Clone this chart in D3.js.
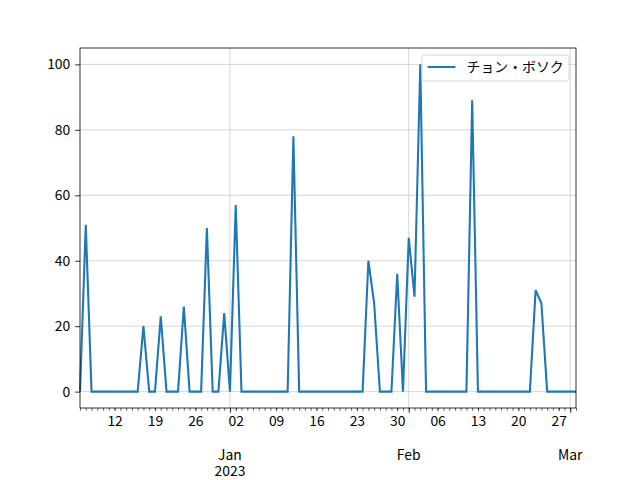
<!DOCTYPE html>
<html>
<head>
<meta charset="utf-8">
<script src="https://cdn.jsdelivr.net/npm/d3@7"></script>
<style>
  html, body { margin: 0; padding: 0; background: #fff; }
  svg { display: block; }
  text { font-family: "Noto Sans CJK JP", "DejaVu Sans", sans-serif; }
</style>
</head>
<body>
<svg id="chart" width="640" height="480"></svg>
<script>
// ---- data ----
const startDate = "2022-12-06";
const endDate = "2023-03-02";
const seriesName = "チョン・ボソク";
const values = [
  0, 51, 0, 0, 0, 0, 0, 0, 0, 0,      // Dec 6 - Dec 15
  0, 20, 0, 0, 23, 0, 0, 0, 26, 0,    // Dec 16 - Dec 25
  0, 0, 50, 0, 0, 24, 0, 57, 0, 0,    // Dec 26 - Jan 4
  0, 0, 0, 0, 0, 0, 0, 78, 0, 0,      // Jan 5 - Jan 14
  0, 0, 0, 0, 0, 0, 0, 0, 0, 0,       // Jan 15 - Jan 24
  40, 27, 0, 0, 0, 36, 0, 47, 29, 100,// Jan 25 - Feb 3
  0, 0, 0, 0, 0, 0, 0, 0, 89, 0,      // Feb 4 - Feb 13
  0, 0, 0, 0, 0, 0, 0, 0, 0, 31,      // Feb 14 - Feb 23
  27, 0, 0, 0, 0, 0, 0                // Feb 24 - Mar 2
];
const yTicks = [0, 20, 40, 60, 80, 100];
const dayLabelDates = ["2022-12-12","2022-12-19","2022-12-26","2023-01-02","2023-01-09","2023-01-16",
                       "2023-01-23","2023-01-30","2023-02-06","2023-02-13","2023-02-20","2023-02-27"];
const monthTickDates = ["2023-01-01","2023-02-01","2023-03-01"];
const monthLabels = ["Jan", "Feb", "Mar"];
const yearLabels = ["2023", "", ""];

// ---- layout ----
const parse = d3.utcParse("%Y-%m-%d");
const margin = {left: 80, right: 64, top: 48, bottom: 72};
const W = 640, H = 480;
const iw = W - margin.left - margin.right;
const ih = H - margin.top - margin.bottom;

const t0 = parse(startDate), t1 = parse(endDate);
const dates = d3.utcDay.range(t0, d3.utcDay.offset(t1, 1));
const data = dates.map((d, i) => ({date: d, value: values[i]}));

const x = d3.scaleUtc().domain([t0, t1]).range([0, iw]);
const y = d3.scaleLinear().domain([-5, 105]).range([ih, 0]);

const svg = d3.select("#chart");
const g = svg.append("g").attr("transform", `translate(${margin.left},${margin.top})`);

const fs = 13.9;
const gridColor = "#cbcbcb";

// grid
g.append("g").selectAll("line.hg").data(yTicks).join("line")
  .attr("x1", 0).attr("x2", iw)
  .attr("y1", d => y(d)).attr("y2", d => y(d))
  .attr("stroke", gridColor).attr("stroke-width", 0.8);
g.append("g").selectAll("line.vg").data(monthTickDates.map(parse)).join("line")
  .attr("x1", d => x(d)).attr("x2", d => x(d))
  .attr("y1", 0).attr("y2", ih)
  .attr("stroke", gridColor).attr("stroke-width", 0.8);

// line
const line = d3.line().x(d => x(d.date)).y(d => y(d.value));
g.append("path").datum(data)
  .attr("fill", "none").attr("stroke", "#1f77b4")
  .attr("stroke-width", 2.08).attr("stroke-linejoin", "miter").attr("stroke-linecap", "butt")
  .attr("d", line);

// y axis
const yAxis = d3.axisLeft(y).tickValues(yTicks).tickSize(4.86).tickPadding(4.86);
const ya = g.append("g").call(yAxis);
ya.select(".domain").remove();
ya.selectAll("line").attr("stroke", "#000").attr("stroke-width", 0.8);
ya.selectAll("text").attr("font-size", fs).attr("fill", "#000")
  .attr("font-family", '"Noto Sans CJK JP", "DejaVu Sans", sans-serif');

// x axis minor daily ticks
const xMinor = d3.axisBottom(x).tickValues(dates).tickSize(2.78).tickFormat("");
const xm = g.append("g").attr("transform", `translate(0,${ih})`).call(xMinor);
xm.select(".domain").remove();
xm.selectAll("line").attr("stroke", "#000").attr("stroke-width", 0.6);

// x axis day labels
const xDays = d3.axisBottom(x).tickValues(dayLabelDates.map(parse))
  .tickSize(2.78).tickPadding(4.86).tickFormat(d3.utcFormat("%d"));
const xd = g.append("g").attr("transform", `translate(0,${ih})`).call(xDays);
xd.select(".domain").remove();
xd.selectAll("line").attr("stroke", "#000").attr("stroke-width", 0.6);
xd.selectAll("text").attr("font-size", fs).attr("fill", "#000")
  .attr("font-family", '"Noto Sans CJK JP", "DejaVu Sans", sans-serif');

// x axis month major ticks
const xMonths = d3.axisBottom(x).tickValues(monthTickDates.map(parse))
  .tickSize(4.86).tickFormat("");
const xmo = g.append("g").attr("transform", `translate(0,${ih})`).call(xMonths);
xmo.select(".domain").remove();
xmo.selectAll("line").attr("stroke", "#000").attr("stroke-width", 0.8);
const mt = g.append("g");
monthTickDates.forEach((ds, i) => {
  const px = x(parse(ds));
  const t = mt.append("text").attr("x", px).attr("y", ih + 47).attr("dy", "0.35em")
    .attr("text-anchor", "middle").attr("font-size", fs).attr("fill", "#000");
  t.append("tspan").attr("x", px).text(monthLabels[i]);
  if (yearLabels[i]) {
    t.append("tspan").attr("x", px).attr("dy", 16).text(yearLabels[i]);
  }
});

// spines
g.append("rect").attr("x", 0).attr("y", 0).attr("width", iw).attr("height", ih)
  .attr("fill", "none").attr("stroke", "#000").attr("stroke-width", 0.8);

// legend
const lg = g.append("g");
const lx = 342, ly = 7, lw = 147, lh = 26;
lg.append("rect").attr("x", lx).attr("y", ly).attr("width", lw).attr("height", lh)
  .attr("rx", 2.5).attr("fill", "#fff").attr("fill-opacity", 0.8)
  .attr("stroke", "#cccccc").attr("stroke-width", 0.8);
lg.append("line").attr("x1", lx + 5.6).attr("x2", lx + 33.4)
  .attr("y1", ly + 12).attr("y2", ly + 12)
  .attr("stroke", "#1f77b4").attr("stroke-width", 2.08);
lg.append("text").attr("x", lx + 44.5).attr("y", ly + 12).attr("dy", "0.35em")
  .attr("font-size", fs).attr("fill", "#000").text(seriesName);
</script>
</body>
</html>
